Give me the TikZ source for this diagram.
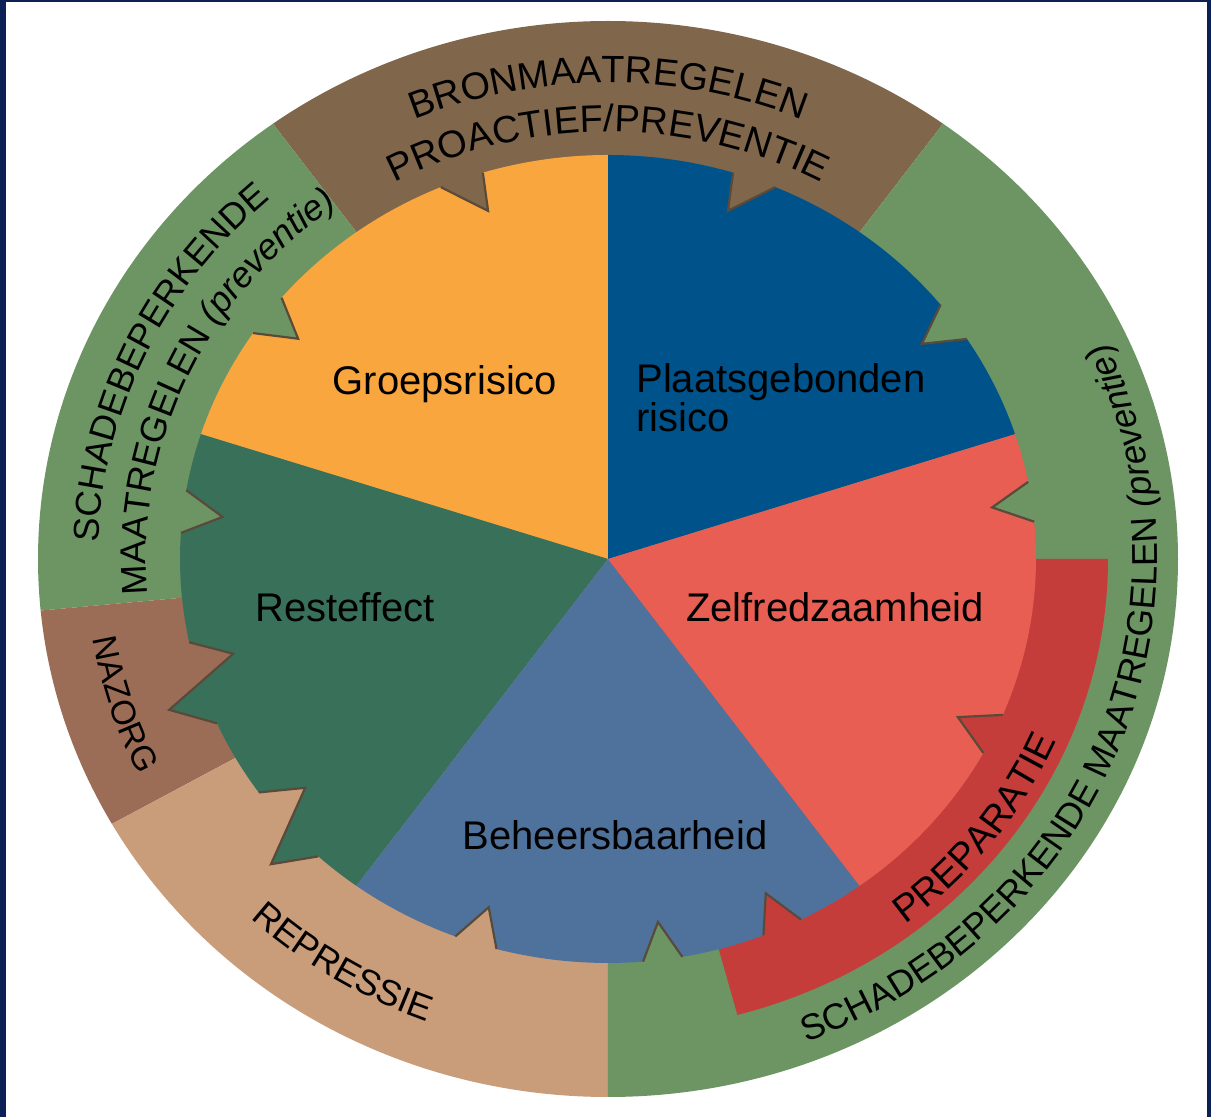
\documentclass[tikz,border=0pt]{standalone}
\usepackage{fontspec}
\setmainfont{Liberation Sans}
\usepackage{tikz}
\usetikzlibrary{decorations.text}

\definecolor{groepsOranje}{RGB}{250,166,62}
\definecolor{plaatsBlauw}{RGB}{0,83,138}
\definecolor{zelfRood}{RGB}{232,94,82}
\definecolor{beheersBlauw}{RGB}{78,114,156}
\definecolor{restGroen}{RGB}{56,112,90}
\definecolor{bronBruin}{RGB}{128,103,75}
\definecolor{schadeGroen}{RGB}{108,149,99}
\definecolor{nazorgBruin}{RGB}{156,109,86}
\definecolor{repressieTan}{RGB}{201,156,122}
\definecolor{preparatieRood}{RGB}{197,61,58}
\definecolor{tandLijn}{RGB}{90,74,58}
\definecolor{randBlauw}{RGB}{12,32,86}

\newcommand{\ringfont}{\fontsize{19}{19}\selectfont}
\newcommand{\ringsmall}{\fontsize{18}{18}\selectfont}

\begin{document}
\begin{tikzpicture}[x=0.5pt, y=0.5pt,
  pie/.style={x radius=428, y radius=404},
  ring/.style={x radius=570, y radius=538},
  tooth/.style={draw=tandLijn, line width=1.1pt, line join=miter},
  slicelabel/.style={inner sep=0pt, anchor=base, font=\fontsize{20}{18.5}\selectfont},
  ringtext/.style={decorate, decoration={text along path, text align=center, text={#1}}}]

  % Frame
  \useasboundingbox (-608,-558) rectangle (603,559);
  \fill[white] (-608,-558) rectangle (603,559);
  \fill[randBlauw] (-608,-558) rectangle (-602,559);
  \fill[randBlauw] (-608,557) rectangle (603,559);
  \fill[randBlauw] (599,-558) rectangle (603,559);

  % Outer ring
  \fill[bronBruin] (0,0) -- (54:570 and 538) arc[ring, start angle=54, end angle=126] -- cycle;
  \fill[schadeGroen] (0,0) -- (126:570 and 538) arc[ring, start angle=126, end angle=185.5] -- cycle;
  \fill[nazorgBruin] (0,0) -- (185.5:570 and 538) arc[ring, start angle=185.5, end angle=209.5] -- cycle;
  \fill[repressieTan] (0,0) -- (209.5:570 and 538) arc[ring, start angle=209.5, end angle=270] -- cycle;
  \fill[schadeGroen] (0,0) -- (270:570 and 538) arc[ring, start angle=270, end angle=414] -- cycle;

  % Preparatie band
  \fill[preparatieRood] (0,0) -- (0:500 and 472) arc[start angle=0, end angle=-75, x radius=500, y radius=472] -- cycle;

  % Pie slices with notches
  \fill[plaatsBlauw] (0,0) -- (18:428 and 404) arc[pie, start angle=18, end angle=33]
    -- (36:388 and 366) -- (39:428 and 404) arc[pie, start angle=39, end angle=67]
    -- (72:388 and 366) -- (73:428 and 404) arc[pie, start angle=73, end angle=90] -- cycle;
  \fill[groepsOranje] (0,0) -- (90:428 and 404) arc[pie, start angle=90, end angle=107]
    -- (108:388 and 366) -- (113:428 and 404) arc[pie, start angle=113, end angle=139.7]
    -- (143:388 and 366) -- (146:428 and 404) arc[pie, start angle=146, end angle=162] -- cycle;
  \fill[restGroen] (0,0) -- (162:428 and 404) arc[pie, start angle=162, end angle=170.2]
    -- (173.4:388 and 366) -- (176.3:428 and 404) arc[pie, start angle=176.3, end angle=191.9]
    -- (195:388 and 366) -- (200:467 and 441) -- (204:428 and 404) arc[pie, start angle=204, end angle=215.3]
    -- (218.7:388 and 366) -- (223.8:467 and 441) -- (227.4:428 and 404) arc[pie, start angle=227.4, end angle=234] -- cycle;
  \fill[beheersBlauw] (0,0) -- (234:428 and 404) arc[pie, start angle=234, end angle=249.1]
    -- (252.1:388 and 366) -- (254.9:428 and 404) arc[pie, start angle=254.9, end angle=274.7]
    -- (277.4:388 and 366) -- (280:428 and 404) arc[pie, start angle=280, end angle=291.3]
    -- (294:388 and 366) -- (296.8:428 and 404) arc[pie, start angle=296.8, end angle=306] -- cycle;
  \fill[zelfRood] (0,0) -- (306:428 and 404) arc[pie, start angle=306, end angle=331.3]
    -- (334.4:388 and 366) -- (337.3:428 and 404) arc[pie, start angle=337.3, end angle=365.3]
    -- (368.1:388 and 366) -- (371:428 and 404) arc[pie, start angle=371, end angle=378] -- cycle;

  % Notch outlines
  \draw[tooth] (33:428 and 404) -- (36:388 and 366) -- (39:428 and 404);
  \draw[tooth] (67:428 and 404) -- (72:388 and 366) -- (73:428 and 404);
  \draw[tooth] (107:428 and 404) -- (108:388 and 366) -- (113:428 and 404);
  \draw[tooth] (139.7:428 and 404) -- (143:388 and 366) -- (146:428 and 404);
  \draw[tooth] (170.2:428 and 404) -- (173.4:388 and 366) -- (176.3:428 and 404);
  \draw[tooth] (191.9:428 and 404) -- (195:388 and 366) -- (200:467 and 441) -- (204:428 and 404);
  \draw[tooth] (215.3:428 and 404) -- (218.7:388 and 366) -- (223.8:467 and 441) -- (227.4:428 and 404);
  \draw[tooth] (249.1:428 and 404) -- (252.1:388 and 366) -- (254.9:428 and 404);
  \draw[tooth] (274.7:428 and 404) -- (277.4:388 and 366) -- (280:428 and 404);
  \draw[tooth] (291.3:428 and 404) -- (294:388 and 366) -- (296.8:428 and 404);
  \draw[tooth] (331.3:428 and 404) -- (334.4:388 and 366) -- (337.3:428 and 404);
  \draw[tooth] (365.3:428 and 404) -- (368.1:388 and 366) -- (371:428 and 404);

  % Slice labels
  \node[slicelabel] (Groeps) at (-163,164) {Groepsrisico};
  \node[slicelabel, anchor=base west, align=left] (Plaats) at (28,127) {Plaatsgebonden\\risico};
  \node[slicelabel] (Zelf) at (227,-63) {Zelfredzaamheid};
  \node[slicelabel] (Rest) at (-263,-63) {Resteffect};
  \node[slicelabel] (Beheers) at (7,-291) {Beheersbaarheid};

  % Ring texts
  \path[ringtext={|\ringfont|BRONMAATREGELEN}]
    (150:504 and 476) arc[start angle=150, end angle=30, x radius=504, y radius=476];
  \path[ringtext={|\ringfont|PROACTIEF/PREVENTIE}]
    (160:452 and 427) arc[start angle=160, end angle=20, x radius=452, y radius=427];
  \path[ringtext={|\ringsmall|SCHADEBEPERKENDE}]
    (205.3:510 and 481) arc[start angle=205.3, end angle=105.3, x radius=510, y radius=481];
  \path[ringtext={|\ringsmall|MAATREGELEN |\ringsmall\itshape|(preventie)}]
    (210.8:462 and 436) arc[start angle=210.8, end angle=100.8, x radius=462, y radius=436];
  \path[ringtext={|\fontsize{17}{17}\selectfont|NAZORG}]
    (174.5:522 and 493) arc[start angle=174.5, end angle=220.5, x radius=522, y radius=493];
  \path[ringtext={|\ringsmall|REPRESSIE}]
    (210:522 and 493) arc[start angle=210, end angle=266, x radius=522, y radius=493];
  \path[ringtext={|\ringfont|PREPARATIE}]
    (-70:488 and 461) arc[start angle=-70, end angle=-5, x radius=488, y radius=461];
  \path[ringtext={|\ringsmall|SCHADEBEPERKENDE MAATREGELEN |\ringsmall\itshape|(preventie)}]
    (-111.5:549 and 518) arc[start angle=-111.5, end angle=68.5, x radius=549, y radius=518];
\end{tikzpicture}
\end{document}
